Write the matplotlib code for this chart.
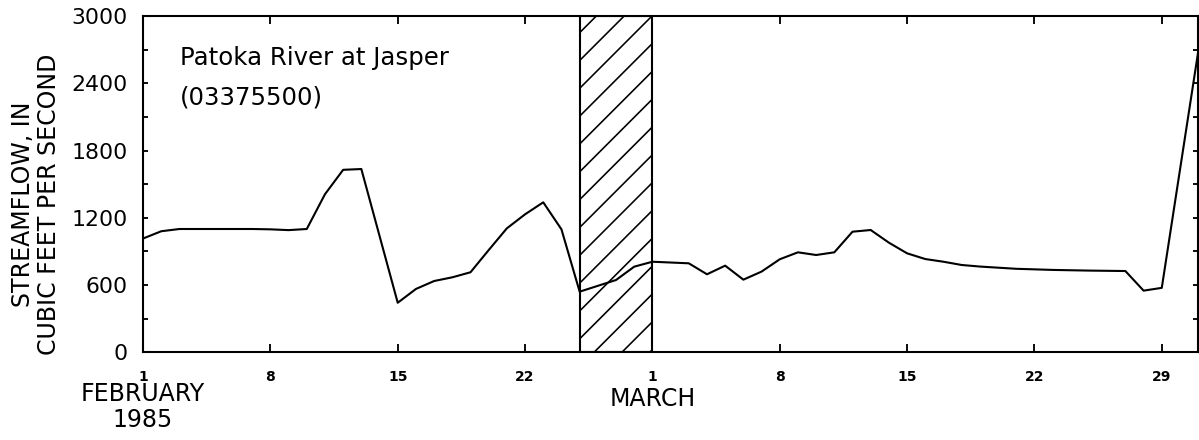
import matplotlib.pyplot as plt
from matplotlib.ticker import MultipleLocator

# days counted from February 1, 1985 (day 28 = March 1)
days = [0, 1, 2, 3, 4, 5, 6, 7, 8, 9, 10, 11, 12, 14, 15, 16, 17, 18, 19,
        20, 21, 22, 23, 24, 26, 27, 28, 30, 31, 32, 33, 34, 35, 36, 37, 38,
        39, 40, 41, 42, 43, 44, 45, 46, 47, 48, 49, 50, 51, 52, 53, 54, 55,
        56, 58]
flow = [1015, 1080, 1100, 1100, 1100, 1100, 1100, 1097, 1090, 1100, 1410,
        1628, 1635, 442, 565, 636, 669, 714, 912, 1106, 1231, 1338, 1097,
        541, 645, 764, 808, 794, 696, 773, 648, 720, 830, 892, 868, 892,
        1076, 1091, 978, 883, 832, 808, 779, 765, 755, 745, 740, 735, 732,
        729, 727, 725, 550, 575, 2680]

tick_days = [0, 7, 14, 21, 28, 35, 42, 49, 56]
tick_labels = ['1', '8', '15', '22', '1', '8', '15', '22', '29']
gap_start = 24
gap_end = 28

fig = plt.figure(figsize=(1199 / 167, 440 / 167), dpi=167)
ax = fig.add_axes([0.1193, 0.1993, 0.88, 0.7643])
plt.rcParams['hatch.linewidth'] = 0.7

# hatched period (no data)
ax.axvspan(gap_start, gap_end, facecolor='white', edgecolor='black',
           hatch='//', linewidth=0.9, zorder=1)

ax.plot(days, flow, color='black', linewidth=0.9, zorder=3)

ax.set_xlim(0, 58)
ax.set_ylim(0, 3000)
ax.yaxis.set_major_locator(MultipleLocator(600))
ax.yaxis.set_minor_locator(MultipleLocator(300))
ax.set_xticks(tick_days)
ax.set_xticklabels(tick_labels, fontsize=6, fontweight='bold')
ax.tick_params(axis='y', which='both', direction='in', left=True, right=True,
               length=2.2, width=0.8, labelsize=9.5, pad=6.5)
ax.tick_params(axis='x', direction='in', top=True, bottom=True,
               length=3.5, width=0.8, pad=7.5)
for s in ax.spines.values():
    s.set_linewidth(0.9)

ax.text(0.035, 0.854, 'Patoka River at Jasper', transform=ax.transAxes,
        fontsize=10.5, va='baseline')
ax.text(0.035, 0.738, '(03375500)', transform=ax.transAxes,
        fontsize=10.5, va='baseline')

fig.text(0.030, 0.536, 'STREAMFLOW, IN\nCUBIC FEET PER SECOND', rotation=90,
         ha='center', va='center', multialignment='center', fontsize=10.2,
         linespacing=1.1)
fig.text(0.119, 0.105, 'FEBRUARY', ha='center', va='center', fontsize=10.2)
fig.text(0.119, 0.045, '1985', ha='center', va='center', fontsize=10.2)
fig.text(0.544, 0.093, 'MARCH', ha='center', va='center', fontsize=10.2)

fig.savefig('out.png', dpi=167)
